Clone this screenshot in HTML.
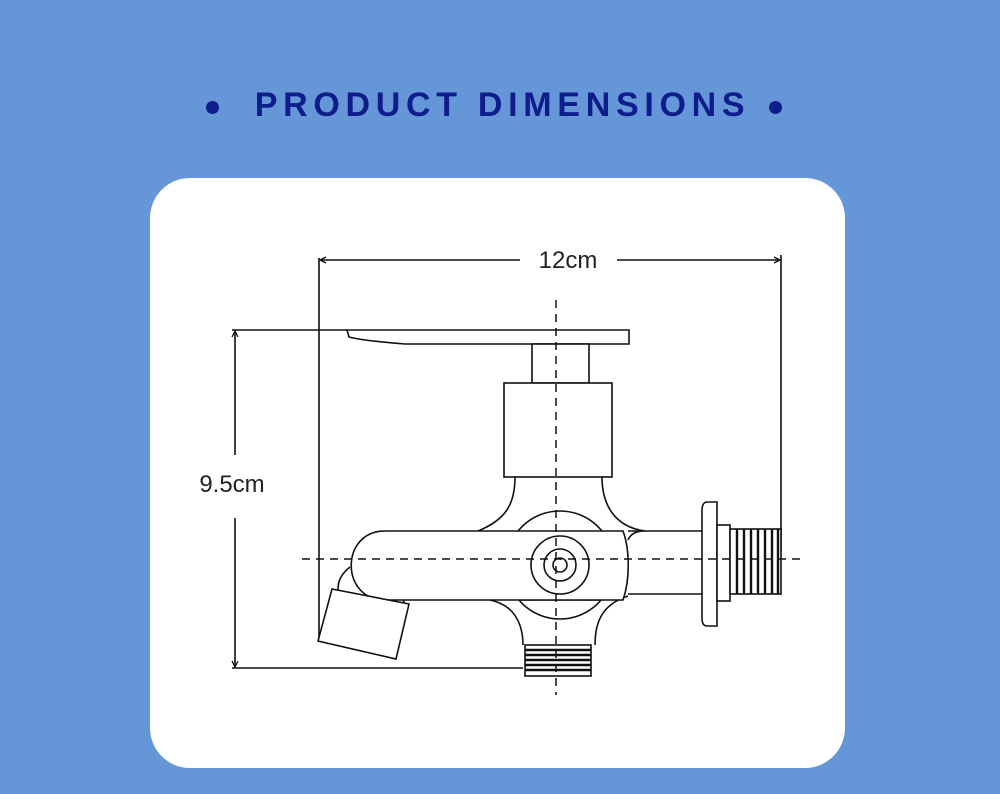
<!DOCTYPE html>
<html><head><meta charset="utf-8"><style>
html,body{margin:0;padding:0}
body{width:1000px;height:794px;background:#6596d8;position:relative;overflow:hidden;font-family:"Liberation Sans",sans-serif}
.card{position:absolute;left:150px;top:178px;width:695px;height:590px;background:#fff;border-radius:40px}
.title{position:absolute;left:0;top:85px;width:1000px;text-align:center;color:#0f1d8c;font-weight:bold;font-size:34px;letter-spacing:5.7px;line-height:40px;text-indent:5px}
.dot{position:absolute;width:13px;height:13px;border-radius:50%;background:#0f1d8c;top:101px}
svg{position:absolute;left:0;top:0}
</style></head><body>
<div class="card"></div>
<div class="dot" style="left:206px"></div>
<div class="dot" style="left:769px"></div>
<div class="title">PRODUCT DIMENSIONS</div>
<svg width="1000" height="794" viewBox="0 0 1000 794" fill="none" stroke="#111" stroke-width="1.6">
<line x1="319" y1="258" x2="319" y2="641"/>
<line x1="781" y1="255" x2="781" y2="552"/>
<line x1="320" y1="260" x2="520" y2="260"/>
<line x1="617" y1="260" x2="780" y2="260"/>
<path d="M326,257 L320,260 L326,263 M774,257 L780,260 L774,263" stroke-width="1.3"/>
<text x="568" y="268" font-size="24" fill="#222" stroke="none" text-anchor="middle" font-family="Liberation Sans,sans-serif">12cm</text>
<line x1="232" y1="330" x2="347" y2="330"/>
<line x1="232" y1="668" x2="523" y2="668"/>
<line x1="235" y1="331" x2="235" y2="455"/>
<line x1="235" y1="518" x2="235" y2="667"/>
<path d="M232,337 L235,331 L238,337 M232,661 L235,667 L238,661" stroke-width="1.3"/>
<text x="232" y="492" font-size="24" fill="#222" stroke="none" text-anchor="middle" font-family="Liberation Sans,sans-serif">9.5cm</text>
<path d="M347,330 L629,330 L629,344 L405,344 C380,342 360,340 349,337 Z" fill="#fff"/>
<rect x="532" y="344" width="57" height="39" fill="#fff"/>
<rect x="504" y="383" width="108" height="94" fill="#fff"/>
<path d="M515,477 C515,505 505,520 478,531 M602,477 C602,505 615,527 645,531"/>
<circle cx="560" cy="565" r="54" fill="#fff"/>
<path d="M628,531 L702,531 M628,594 L702,594 M645,531 C635,531 630,535 628,540"/>
<path d="M490,600 C515,605 523,625 523,645 M628,596 C600,605 595,625 595,645"/>
<path d="M518,600 L602,600"/>
<path d="M385,531 L623,531 C630,550 630,580 623,600 L385,600 C340,600 340,531 385,531 Z" fill="#fff"/>
<circle cx="560" cy="565" r="29"/>
<circle cx="560" cy="565" r="16"/>
<circle cx="560" cy="565" r="7"/>
<path d="M350,567 C340,575 338,582 338,590 M403,600 L405,604"/>
<path d="M332,589 L409,604 L396,659 L318,641 Z" fill="#fff"/>
<path d="M707,502 L717,502 L717,626 L707,626 C703,626 702,622 702,618 L702,510 C702,505 704,502 707,502 Z" fill="#fff"/>
<rect x="717" y="525" width="13" height="76" fill="#fff"/>
<rect x="730" y="529" width="51" height="65" fill="#fff"/>
<path d="M737,529V594M744,529V594M751,529V594M758,529V594M765,529V594M772,529V594M778,529V594" stroke-width="2.4"/>
<rect x="525" y="645" width="66" height="31" fill="#fff"/>
<path d="M525,650H591M525,655H591M525,660H591M525,665H591M525,670H591" stroke-width="2.4"/>
<line x1="556" y1="300" x2="556" y2="695" stroke-dasharray="8,6" stroke-width="1.5"/>
<line x1="302" y1="559" x2="805" y2="559" stroke-dasharray="8,6" stroke-width="1.5"/>
</svg>
</body></html>
